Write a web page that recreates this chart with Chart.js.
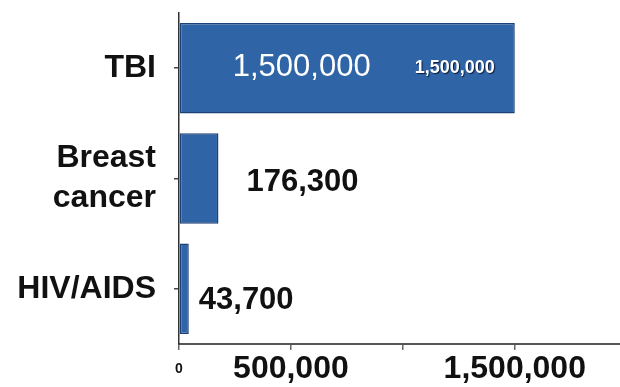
<!DOCTYPE html>
<html>
<head>
<meta charset="utf-8">
<script src="https://cdn.jsdelivr.net/npm/chart.js@4/dist/chart.umd.min.js"></script>
<style>
  html, body { margin: 0; padding: 0; background: #fff; overflow: hidden; }
  #chart { display: block; }
</style>
</head>
<body>
<canvas id="chart" width="620" height="387"></canvas>
<script>
const categories = ["TBI", ["Breast", "cancer"], "HIV/AIDS"];
const cases = [1500000, 176300, 43700];
const caseLabels = ["1,500,000", "176,300", "43,700"];
const tbiBadge = "1,500,000";
const xTickValues = [0, 500000, 1000000, 1500000];
const xTickLabels = ["0", "500,000", "", "1,500,000"];
const xMax = 1970000;

const FONT = "'Liberation Sans', Arial, sans-serif";
Chart.defaults.font.family = FONT;

// value labels drawn next to / inside the bars
const labelStyles = [
  { color: "#ffffff", font: "31px " + FONT, from: "start", dx: 53, dy: -1 },
  { color: "#111111", font: "bold 31px " + FONT, from: "end", dx: 28, dy: 4 },
  { color: "#111111", font: "bold 31px " + FONT, from: "end", dx: 10, dy: 12 },
];

const barLabels = {
  id: "barLabels",
  afterDatasetsDraw(chart) {
    const { ctx } = chart;
    const bars = chart.getDatasetMeta(0).data;
    ctx.save();
    ctx.textBaseline = "middle";
    ctx.textAlign = "left";
    bars.forEach((bar, i) => {
      const style = labelStyles[i];
      const x = (style.from === "start" ? bar.base : bar.x) + style.dx;
      ctx.font = style.font;
      ctx.fillStyle = style.color;
      ctx.fillText(caseLabels[i], x, bar.y + style.dy);
    });
    // small shadowed badge at the end of the TBI bar
    const tbi = bars[0];
    ctx.font = "bold 18px " + FONT;
    ctx.textAlign = "right";
    ctx.shadowColor = "rgba(10, 20, 50, 0.9)";
    ctx.shadowOffsetX = 1;
    ctx.shadowOffsetY = 1;
    ctx.shadowBlur = 1;
    ctx.fillStyle = "#ffffff";
    ctx.fillText(tbiBadge, tbi.x - 20, tbi.y);
    ctx.restore();
  },
};

new Chart(document.getElementById("chart"), {
  type: "bar",
  data: {
    labels: categories,
    datasets: [{
      data: cases,
      backgroundColor: "#2f64a6",
      borderColor: "#1d4177",
      borderWidth: 1.5,
      borderSkipped: false,
      categoryPercentage: 1,
      barPercentage: 0.82,
    }],
  },
  options: {
    indexAxis: "y",
    responsive: false,
    animation: false,
    layout: { padding: { top: 13, left: 0, right: 0, bottom: 0 } },
    plugins: { legend: { display: false }, tooltip: { enabled: false } },
    scales: {
      x: {
        min: 0,
        max: xMax,
        afterBuildTicks(scale) {
          scale.ticks = xTickValues.map((value) => ({ value }));
        },
        afterFit(scale) {
          scale.height = 43;
          scale.paddingRight = 0;
        },
        ticks: {
          padding: 0,
          color: "#111",
          maxRotation: 0,
          autoSkip: false,
          font: (ctx) => (ctx.tick && ctx.tick.value === 0)
            ? { size: 14, weight: "bold", lineHeight: 2.74 }
            : { size: 32, weight: "bold", lineHeight: 1.2 },
          callback: (value, index) => xTickLabels[index],
        },
        grid: { drawOnChartArea: false, tickLength: 6, color: "#666", lineWidth: 1.5 },
        border: { color: "#555", width: 2 },
      },
      y: {
        afterFit(scale) {
          scale.width = 179;
          scale.paddingTop = 0;
          scale.paddingBottom = 0;
        },
        ticks: {
          padding: 18,
          color: "#111",
          font: { size: 32, weight: "bold", lineHeight: 1.25 },
        },
        grid: { drawOnChartArea: false, offset: false, tickLength: 5, color: "#444", lineWidth: 1.5 },
        border: { color: "#333", width: 1.5 },
      },
    },
  },
  plugins: [barLabels],
});
</script>
</body>
</html>
